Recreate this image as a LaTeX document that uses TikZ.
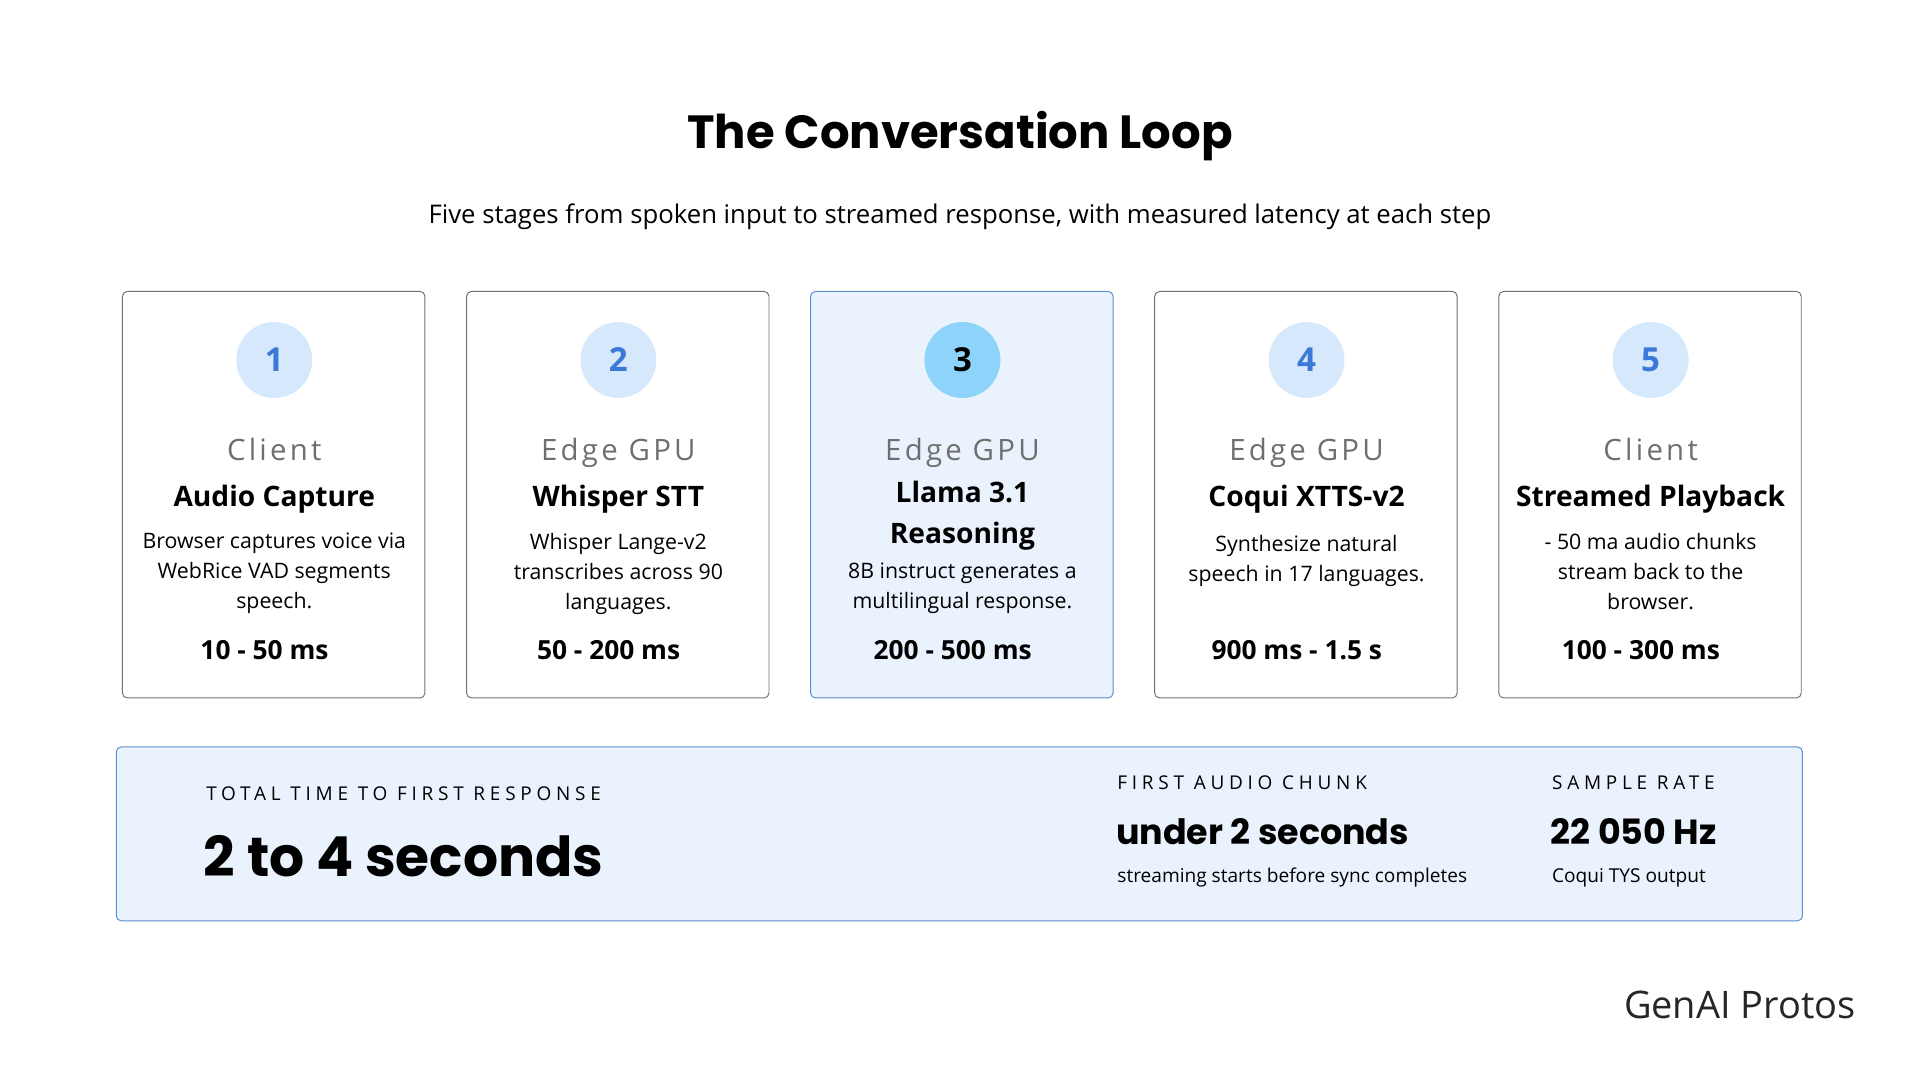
\documentclass[tikz,border=0pt]{standalone}
\usepackage{fontspec}
\setmainfont{Open Sans}
\newfontfamily\headfont{Poppins}
\definecolor{inkblue}{HTML}{3B78D8}
\definecolor{softblue}{HTML}{D6E9FC}
\definecolor{hotblue}{HTML}{8ED4FA}
\definecolor{panelblue}{HTML}{EAF3FD}
\definecolor{edgeblue}{HTML}{5A8FD0}
\definecolor{hostgray}{HTML}{6F6F6F}
\usetikzlibrary{positioning}
\begin{document}
\begin{tikzpicture}[x=1pt,y=-1pt,
    card/.style={draw=black!55, fill=white, rounded corners=4pt, line width=0.8pt},
    hotcard/.style={draw=edgeblue, fill=panelblue, rounded corners=4pt, line width=0.8pt},
    badge/.style={circle, minimum size=62pt, fill=softblue, text=inkblue, font=\fontsize{27}{27}\selectfont\bfseries},
    hotbadge/.style={badge, fill=hotblue, text=black},
    host/.style={text=hostgray, anchor=base, font=\fontsize{24}{26}\selectfont\addfontfeature{LetterSpace=11}},
    stage/.style={align=center, font=\fontsize{23}{34}\selectfont\bfseries},
    desc/.style={align=center, font=\fontsize{17.4}{24.5}\selectfont},
    lat/.style={font=\fontsize{21.5}{22}\selectfont\bfseries},
    caps/.style={anchor=west, font=\fontsize{15.5}{17}\selectfont\addfontfeature{LetterSpace=25}},
    small/.style={anchor=west, font=\fontsize{15.6}{17}\selectfont}
  ]
  \useasboundingbox (0,0) rectangle (1568,882);

  % title
  \node[font=\headfont\fontsize{38}{42}\selectfont\bfseries] (title) at (784,111) {The Conversation Loop};
  \node[font=\fontsize{21}{24}\selectfont] (sub) at (784,177)
    {Five stages from spoken input to streamed response, with measured latency at each step};

  % stage cards
  \foreach \i/\x/\hst/\stg/\sy/\dsc/\dy/\lt/\cs/\bs in {
      1/224/Client/{Audio Capture}/393/{Browser captures voice via\\WebRice VAD segments\\speech.}/432/{10 - 50 ms}/card/badge,
      2/505/Edge GPU/{Whisper STT}/393/{Whisper Lange-v2\\transcribes across 90\\languages.}/432/{50 - 200 ms}/card/badge,
      3/786/Edge GPU/{Llama 3.1\\Reasoning}/389/{8B instruct generates a\\multilingual response.}/456/{200 - 500 ms}/hotcard/hotbadge,
      4/1067/Edge GPU/{Coqui XTTS-v2}/393/{Synthesize natural\\speech in 17 languages.}/434/{900 ms - 1.5 s}/card/badge,
      5/1348/Client/{Streamed Playback}/393/{- 50 ma audio chunks\\stream back to the\\browser.}/432/{100 - 300 ms}/card/badge} {
    \draw[\cs] (\x-124,238) rectangle (\x+123,570);
    \node[\bs] (b\i) at (\x,294) {\i};
    \node[host] (h\i) at (\x,376) {\hst};
    \node[stage, anchor=north] (s\i) at (\x,\sy) {\stg};
    \node[desc, anchor=north] (d\i) at (\x,\dy) {\dsc};
    \node[lat] (l\i) at (\x-8,531) {\lt};
  }

  % summary panel
  \draw[draw=edgeblue, fill=panelblue, rounded corners=4pt, line width=0.8pt] (95,610) rectangle (1472,752);
  \node[caps] (tt) at (165,648) {TOTAL TIME TO FIRST RESPONSE};
  \node[anchor=west, font=\headfont\fontsize{45}{48}\selectfont\bfseries] (tv) at (163,699) {2 to 4 seconds};
  \node[caps] (ft) at (909,639) {FIRST AUDIO CHUNK};
  \node[anchor=west, font=\headfont\fontsize{28.5}{30}\selectfont\bfseries] (fv) at (908,679) {under 2 seconds};
  \node[small] (fn) at (909,717) {streaming starts before sync completes};
  \node[caps] (st) at (1264,639) {SAMPLE RATE};
  \node[anchor=west, font=\headfont\fontsize{28.5}{30}\selectfont\bfseries] (sv) at (1263,679) {22 050 Hz};
  \node[small] (sn) at (1264,717) {Coqui TYS output};

  % logo
  \node[anchor=east, text=black!85, font=\fontsize{31}{33}\selectfont] (logo) at (1519,821) {GenAI Protos};
\end{tikzpicture}
\end{document}
